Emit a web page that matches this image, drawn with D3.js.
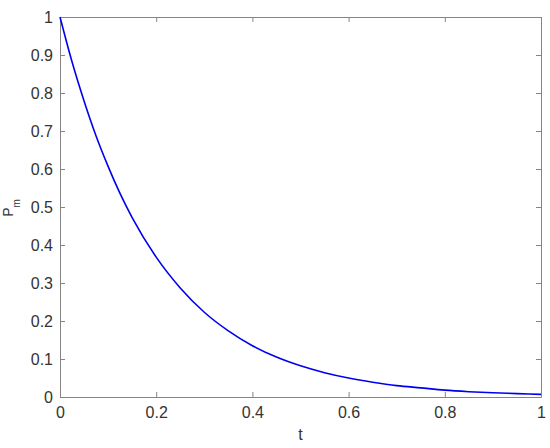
<!DOCTYPE html>
<html>
<head>
<meta charset="utf-8">
<script src="https://cdn.jsdelivr.net/npm/d3@7"></script>
<style>
html,body{margin:0;padding:0;background:#fff;}
svg{display:block;font-family:"Liberation Sans",Arial,Helvetica,sans-serif;}
</style>
</head>
<body>
<svg id="chart" width="550" height="448"></svg>
<script>
// Data
const tValues = [0, 0.025, 0.05, 0.075, 0.1, 0.125, 0.15, 0.2, 0.25, 0.3, 0.35, 0.4, 0.45, 0.5, 0.55, 0.6, 0.65, 0.7, 0.75, 0.8, 0.85, 0.9, 0.95, 1];
const pmValues = [1, 0.882, 0.779, 0.687, 0.607, 0.535, 0.472, 0.368, 0.287, 0.223, 0.174, 0.135, 0.105, 0.082, 0.064, 0.050, 0.039, 0.030, 0.024, 0.018, 0.014, 0.011, 0.009, 0.007];
const xTicks = [0, 0.2, 0.4, 0.6, 0.8, 1];
const yTicks = [0, 0.1, 0.2, 0.3, 0.4, 0.5, 0.6, 0.7, 0.8, 0.9, 1];

const svg = d3.select("#chart");
const L = 60, R = 541, T = 17, B = 397;
const axisColor = "#858585", textColor = "#333";
const fs = 16;
const x = d3.scaleLinear().domain([0, 1]).range([L, R]);
const y = d3.scaleLinear().domain([0, 1]).range([B, T]);
const tickLen = 5;
const fmt = d => String(+d.toFixed(1));

function styleAxis(g, showText) {
  g.select(".domain").attr("stroke", axisColor).attr("stroke-width", 1);
  g.selectAll(".tick line").attr("stroke", axisColor);
  g.selectAll(".tick text").attr("fill", textColor).attr("font-size", fs)
    .style("display", showText ? null : "none");
}

// bottom
svg.append("g").attr("transform", `translate(0,${B})`)
  .call(d3.axisBottom(x).tickValues(xTicks).tickFormat(fmt).tickSizeInner(-tickLen).tickSizeOuter(0).tickPadding(10))
  .call(g => styleAxis(g, true));
// top
svg.append("g").attr("transform", `translate(0,${T})`)
  .call(d3.axisTop(x).tickValues(xTicks).tickSizeInner(-tickLen).tickSizeOuter(0))
  .call(g => styleAxis(g, false));
// left
svg.append("g").attr("transform", `translate(${L},0)`)
  .call(d3.axisLeft(y).tickValues(yTicks).tickFormat(fmt).tickSizeInner(-tickLen).tickSizeOuter(0).tickPadding(7))
  .call(g => styleAxis(g, true));
// right
svg.append("g").attr("transform", `translate(${R},0)`)
  .call(d3.axisRight(y).tickValues(yTicks).tickSizeInner(-tickLen).tickSizeOuter(0))
  .call(g => styleAxis(g, false));

// curve
const data = tValues.map((t, i) => ({t, p: pmValues[i]}));
svg.append("path").datum(data)
  .attr("fill", "none").attr("stroke", "#0000f0").attr("stroke-width", 1.6)
  .attr("d", d3.line().x(d => x(d.t)).y(d => y(d.p)).curve(d3.curveMonotoneX));

// axis labels
svg.append("text").attr("x", (L + R) / 2).attr("y", 440).attr("text-anchor", "middle")
  .attr("fill", textColor).attr("font-size", fs).text("t");
const yl = svg.append("text").attr("transform", `translate(13,208) rotate(-90)`)
  .attr("text-anchor", "middle").attr("fill", textColor).attr("font-size", 14);
yl.append("tspan").text("P");
yl.append("tspan").attr("font-size", 10).attr("dy", 7).text("m");
</script>
</body>
</html>
